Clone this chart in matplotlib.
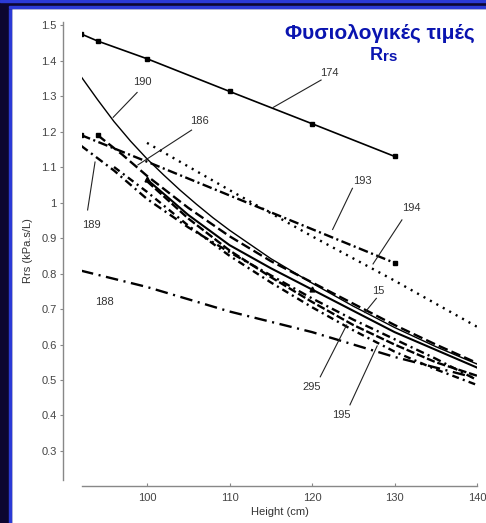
import matplotlib.pyplot as plt
from matplotlib.patches import Rectangle

plt.rcParams['font.family'] = ['Liberation Sans', 'DejaVu Sans']
plt.rcParams['lines.scale_dashes'] = False

# curves: Rrs (kPa.s/L) vs height (cm)
x174 = [92, 94, 100, 110, 120, 130]
y174 = [1.475, 1.455, 1.405, 1.313, 1.222, 1.130]

x190 = [92, 94, 96, 98, 100, 102, 104, 106, 108, 110, 115, 120, 125, 130, 135, 140]
y190 = [1.355, 1.29, 1.228, 1.173, 1.123, 1.078, 1.035, 0.995, 0.957, 0.922, 0.842, 0.773,
        0.708, 0.648, 0.594, 0.545]

x186 = [94, 97, 100, 105, 110, 115, 120, 125, 130, 135, 140]
y186 = [1.19, 1.135, 1.075, 0.985, 0.905, 0.835, 0.775, 0.715, 0.655, 0.6, 0.548]

x193 = [92, 100, 110, 120, 130]
y193 = [1.19, 1.115, 1.02, 0.925, 0.83]

x194 = [100, 110, 120, 130, 140]
y194 = [1.168, 1.035, 0.905, 0.78, 0.65]

x189 = [92, 96, 100, 105, 110, 115, 120, 125, 130, 135, 140]
y189 = [1.16, 1.09, 1.01, 0.93, 0.86, 0.795, 0.73, 0.67, 0.615, 0.56, 0.50]

x188 = [92, 100, 110, 120, 130, 140]
y188 = [0.808, 0.762, 0.693, 0.635, 0.565, 0.505]

x15 = [100, 105, 110, 115, 120, 125, 130, 135, 140]
y15 = [1.065, 0.965, 0.88, 0.815, 0.755, 0.695, 0.635, 0.585, 0.535]

x295 = [100, 105, 110, 115, 120, 125, 130, 135, 140]
y295 = [1.06, 0.955, 0.865, 0.79, 0.72, 0.655, 0.6, 0.55, 0.512]

x195 = [96, 100, 105, 110, 115, 120, 125, 130, 135, 140]
y195 = [1.1, 1.03, 0.935, 0.85, 0.775, 0.705, 0.64, 0.58, 0.53, 0.486]

# labels: text position, pointer start, pointer end
labels = ['174', '190', '186', '193', '194', '189', '188', '15', '295', '195']
lab_x = [122.1, 99.4, 106.3, 126.1, 132.0, 93.2, 94.8, 128.0, 120.0, 123.5]
lab_y = [1.365, 1.34, 1.23, 1.061, 0.985, 0.937, 0.72, 0.752, 0.481, 0.401]
ptr = [((121.1, 1.345), (115.3, 1.268)),
       ((98.8, 1.31), (95.9, 1.24)),
       ((105.4, 1.204), (98.9, 1.106)),
       ((124.9, 1.04), (122.5, 0.924)),
       ((130.9, 0.951), (127.4, 0.827)),
       ((92.8, 0.979), (93.7, 1.114)),
       None,
       ((127.8, 0.73), (126.4, 0.69)),
       ((121.0, 0.509), (124.2, 0.655)),
       ((124.6, 0.43), (127.9, 0.596))]

W, H = 486, 523
fig = plt.figure(figsize=(W / 100, H / 100), dpi=100)
fig.patch.set_facecolor('white')
navy = '#0c0630'
blue = '#2b3ad6'
fig.patches.append(Rectangle((0, 0), 11 / W, 1, transform=fig.transFigure, color=navy, zorder=0))
fig.patches.append(Rectangle((9 / W, 0), 2 / W, 1 - 6 / H, transform=fig.transFigure, color=blue, zorder=0))
fig.patches.append(Rectangle((0, 1 - 8 / H), 1, 8 / H, transform=fig.transFigure, color=navy, zorder=0))
fig.patches.append(Rectangle((0, 1 - 2 / H), 1, 2 / H, transform=fig.transFigure, color=blue, zorder=0))
fig.patches.append(Rectangle((9 / W, 1 - 8 / H), 1, 2 / H, transform=fig.transFigure, color=blue, zorder=0))

ax = fig.add_axes([82 / W, 43 / H, 395 / W, 458 / H])
ax.set_facecolor('none')

ax.plot(x174, y174, color='black', lw=1.2, marker='s', ms=3)
ax.plot(x190, y190, color='black', lw=1.0)
ax.plot(x186, y186, color='black', lw=1.7, dashes=(7, 3), marker='s', ms=3, markevery=[0])
ax.plot(x193, y193, color='black', lw=1.7, dashes=(7, 2.5, 1.5, 2.5), marker='s', ms=3, markevery=[0, 4])
ax.plot(x194, y194, color='black', lw=1.7, dashes=(1.5, 3.8))
ax.plot(x189, y189, color='black', lw=1.7, dashes=(6, 3, 1.5, 3))
ax.plot(x188, y188, color='black', lw=1.7, dashes=(9, 4, 1.5, 4))
ax.plot(x15, y15, color='black', lw=1.5, marker='^', ms=3.5, markevery=[0, 4])
ax.plot(x295, y295, color='black', lw=1.7, dashes=(6, 2))
ax.plot(x195, y195, color='black', lw=1.7, dashes=(5, 3, 1.5, 3))

for t, tx, ty, p in zip(labels, lab_x, lab_y, ptr):
    ax.text(tx, ty, t, fontsize=8, color='#333333', ha='center', va='center')
    if p is not None:
        ax.plot([p[0][0], p[1][0]], [p[0][1], p[1][1]], color='#222222', lw=0.8)

ax.set_xlim(92.12, 140)
ax.set_ylim(0.2183, 1.5085)
ax.set_xticks([100, 110, 120, 130, 140])
yt = [0.3, 0.4, 0.5, 0.6, 0.7, 0.8, 0.9, 1.0, 1.1, 1.2, 1.3, 1.4, 1.5]
ax.set_yticks(yt)
ax.set_yticklabels(['1' if abs(v - 1) < 1e-9 else f'{v:.1f}' for v in yt])

for s in ['top', 'right']:
    ax.spines[s].set_visible(False)
ax.spines['left'].set_position(('outward', 13.7))
ax.spines['bottom'].set_position(('outward', 4.3))
for s in ['left', 'bottom']:
    ax.spines[s].set_color('#888888')
    ax.spines[s].set_linewidth(1.0)
ax.tick_params(axis='y', direction='out', length=2.5, color='#888888', labelsize=8, labelcolor='#444444', pad=2)
ax.tick_params(axis='x', direction='in', length=2.5, color='#888888', labelsize=8, labelcolor='#444444', pad=5)

ax.set_xlabel('Height (cm)', fontsize=8, color='#333333', labelpad=3)
ax.set_ylabel('Rrs (kPa.s/L)', fontsize=8, color='#333333', labelpad=6)

fig.text(380 / W, 1 - 33 / H, 'Φυσιολογικές τιμές', fontsize=15, fontweight='bold',
         color='#0a14b0', ha='center', va='center')
fig.text(383 / W, 1 - 56 / H, 'R', fontsize=13, fontweight='bold',
         color='#0a14b0', ha='right', va='center')
fig.text(383 / W, 1 - 57 / H, 'rs', fontsize=11, fontweight='bold',
         color='#0a14b0', ha='left', va='center')

fig.savefig('out.png', dpi=100)
